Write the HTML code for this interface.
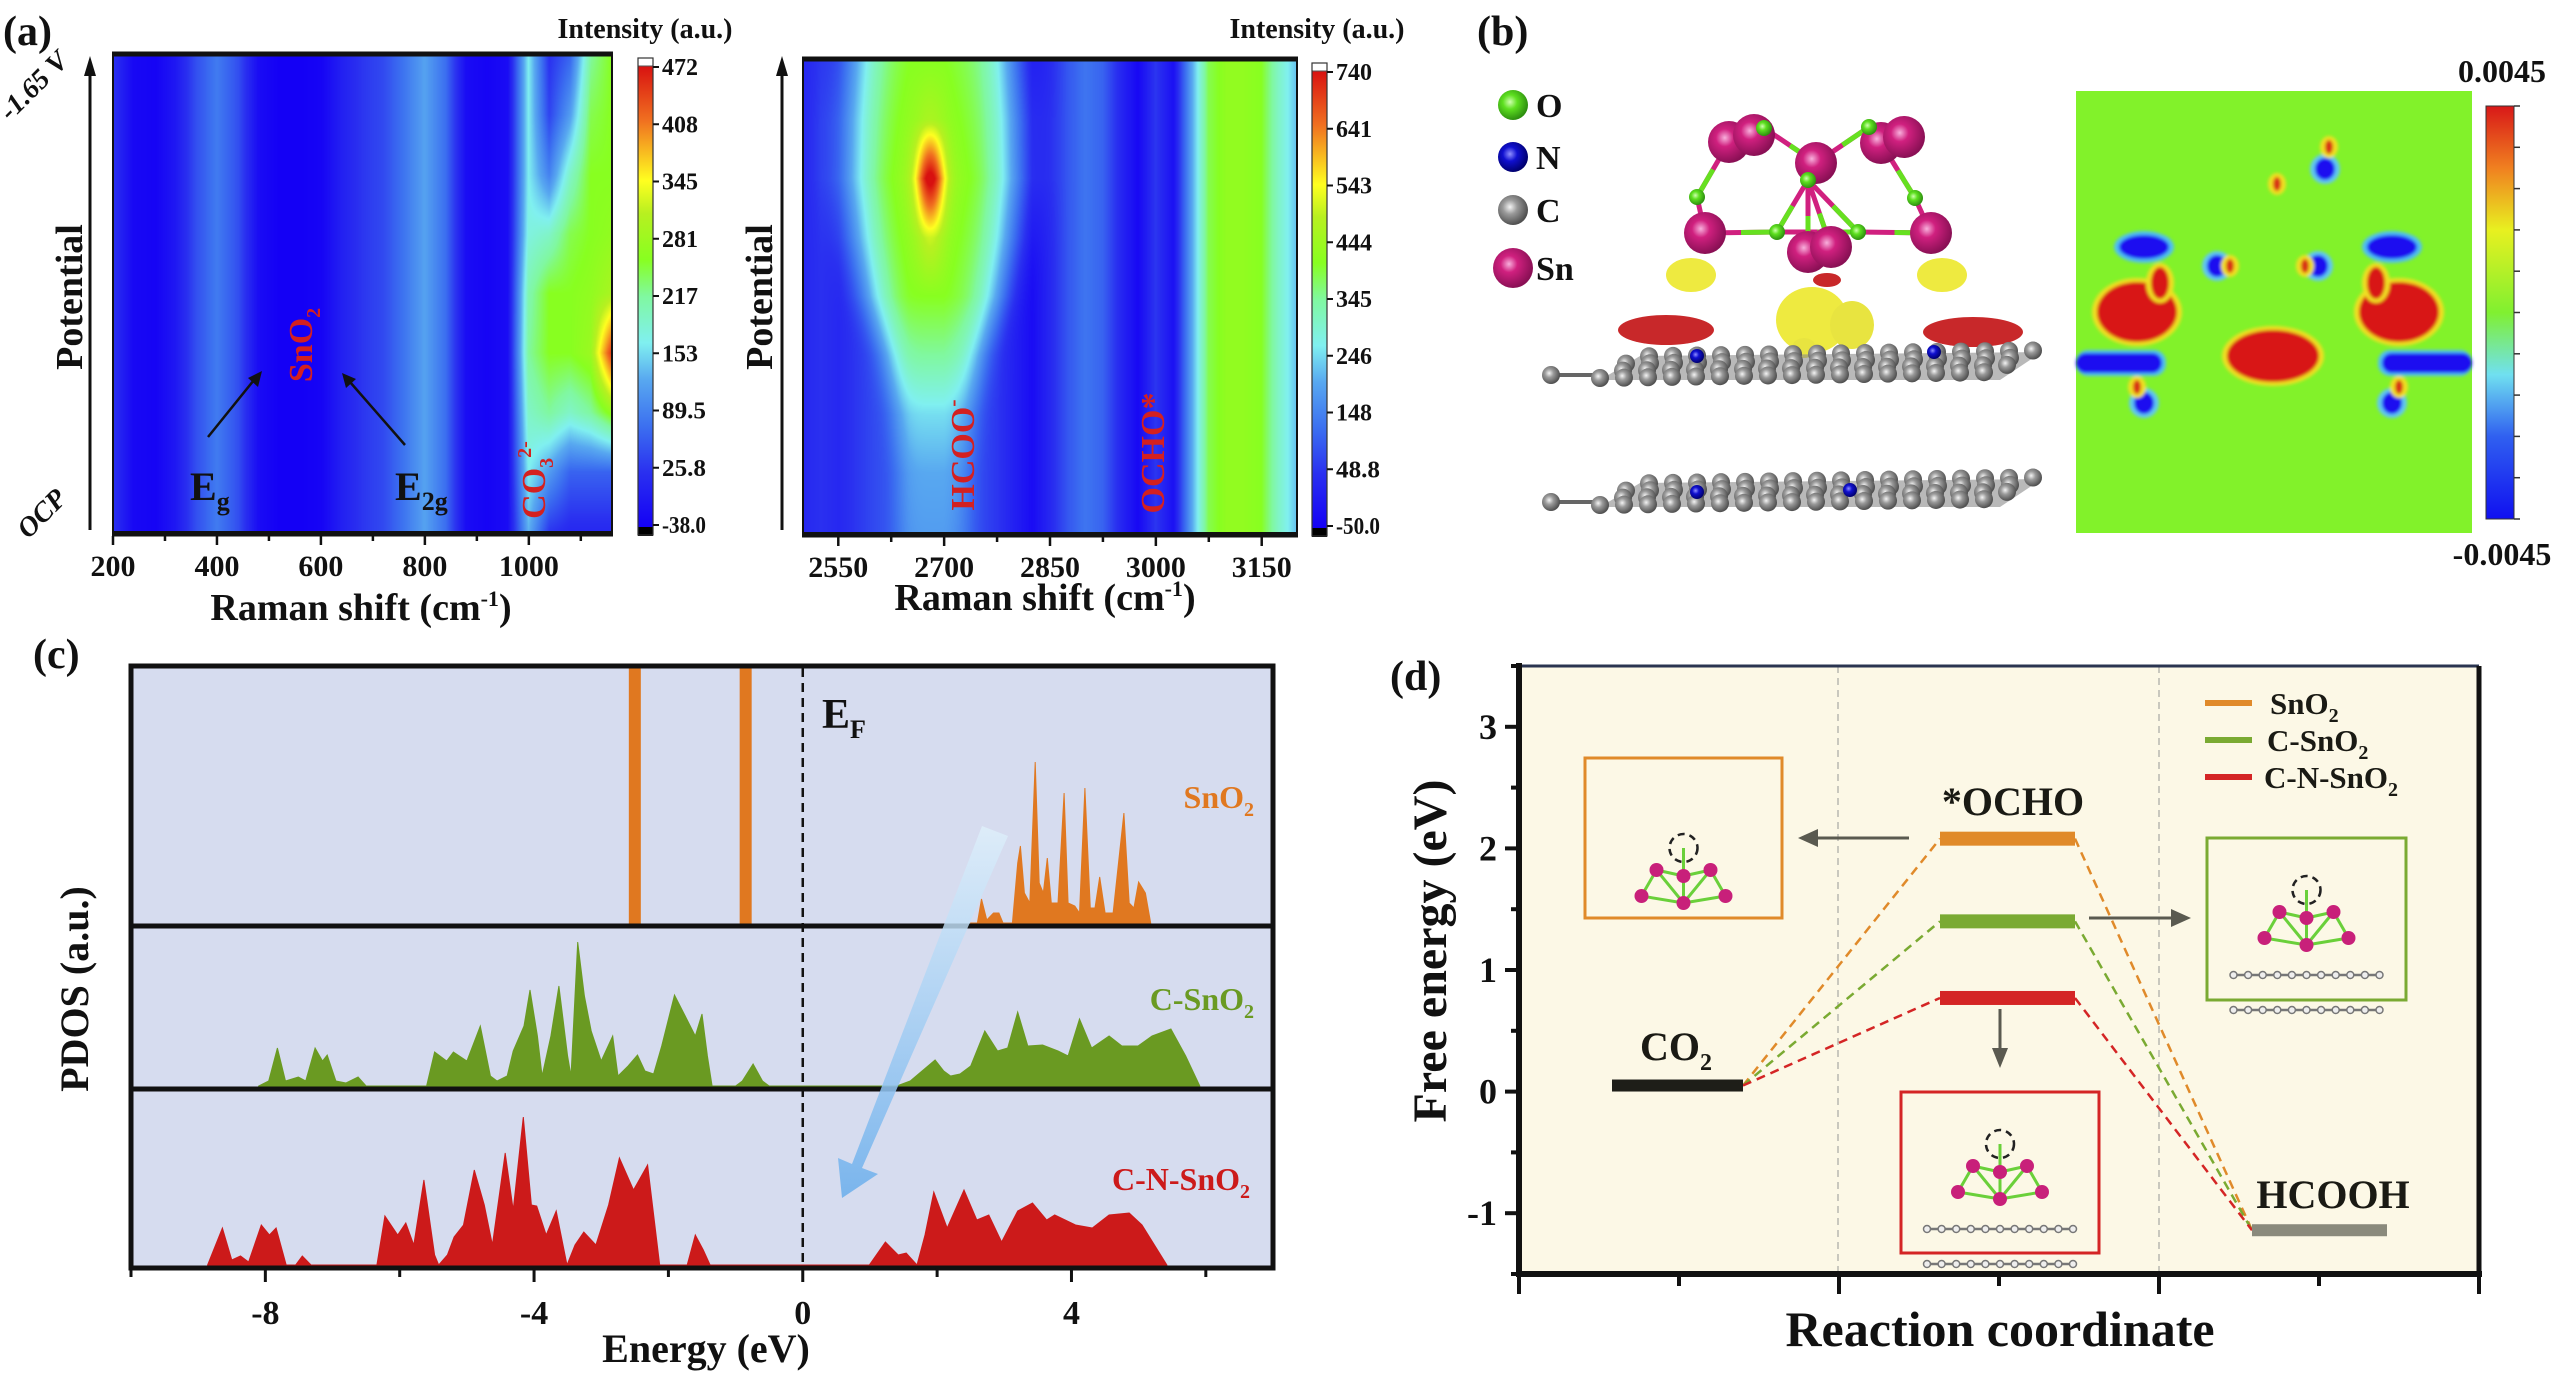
<!DOCTYPE html>
<html><head><meta charset="utf-8">
<style>
html,body{margin:0;padding:0;background:#fff;}
#wrap{position:relative;width:2559px;height:1373px;overflow:hidden;background:#fff;}
svg,canvas{position:absolute;left:0;top:0;}
text{font-family:"Liberation Serif",serif;font-weight:bold;}
</style></head>
<body>
<div id="wrap">
<svg id="base" width="2559" height="1373">
<defs>
  <linearGradient id="jetA" x1="0" y1="1" x2="0" y2="0">
    <stop offset="0" stop-color="#1400f5"/><stop offset="0.12" stop-color="#2a30f0"/><stop offset="0.22" stop-color="#3c70f0"/>
    <stop offset="0.32" stop-color="#58a8f0"/><stop offset="0.40" stop-color="#80f0f0"/><stop offset="0.50" stop-color="#80f8a0"/>
    <stop offset="0.58" stop-color="#88ff20"/><stop offset="0.68" stop-color="#b8f020"/><stop offset="0.75" stop-color="#ffff20"/>
    <stop offset="0.88" stop-color="#f07020"/><stop offset="1" stop-color="#d81010"/>
  </linearGradient>
  <linearGradient id="jetB" x1="0" y1="1" x2="0" y2="0">
    <stop offset="0" stop-color="#1010f0"/><stop offset="0.2" stop-color="#3060f0"/><stop offset="0.35" stop-color="#70e0f0"/>
    <stop offset="0.5" stop-color="#80f030"/><stop offset="0.7" stop-color="#e8f020"/><stop offset="0.85" stop-color="#f08020"/><stop offset="1" stop-color="#d81818"/>
  </linearGradient>
  <linearGradient id="arrowGrad" x1="0" y1="0" x2="0" y2="1">
    <stop offset="0" stop-color="#dff0fb" stop-opacity="0.8"/><stop offset="1" stop-color="#6fb0ec" stop-opacity="0.9"/>
  </linearGradient>
  <radialGradient id="snG" cx="0.4" cy="0.4" r="0.6"><stop offset="0" stop-color="#f8b0dc"/><stop offset="0.35" stop-color="#d0207f"/><stop offset="1" stop-color="#8a1055"/></radialGradient>
  <radialGradient id="oG" cx="0.4" cy="0.4" r="0.6"><stop offset="0" stop-color="#d0ffb0"/><stop offset="0.4" stop-color="#5ee020"/><stop offset="1" stop-color="#2e9010"/></radialGradient>
  <radialGradient id="nG" cx="0.4" cy="0.4" r="0.6"><stop offset="0" stop-color="#9090ff"/><stop offset="0.4" stop-color="#1010d0"/><stop offset="1" stop-color="#000070"/></radialGradient>
  <radialGradient id="cG" cx="0.4" cy="0.4" r="0.6"><stop offset="0" stop-color="#f4f4f4"/><stop offset="0.4" stop-color="#9a9a9a"/><stop offset="1" stop-color="#505050"/></radialGradient>
  <filter id="blur3"><feGaussianBlur stdDeviation="3"/></filter>
  <filter id="blur2"><feGaussianBlur stdDeviation="1.5"/></filter>
</defs>
<g id="panelA"></g>
<g id="panelB"></g>
<g id="panelC"></g>
<g id="panelD"></g>
</svg>
<canvas id="heatL" width="499" height="477" style="left:113px;top:55px"></canvas>
<canvas id="heatR" width="494" height="473" style="left:803px;top:60px"></canvas>
<svg id="over" width="2559" height="1373"></svg>
</div>
<script>
// ================= DATA =================
const leftWn = [200,240,280,320,360,400,440,480,520,560,600,640,680,720,760,800,840,880,920,960];
const leftBase = [0.12,0.02,0.01,0.06,0.17,0.24,0.17,0.03,0.0,0.0,0.01,0.08,0.13,0.16,0.23,0.31,0.22,0.03,0.01,0.03];
const leftHighWn = [1000,1040,1080,1120,1160];
const leftHigh = [
 [0.33,0.13,0.1,0.1,0.1],
 [0.40,0.30,0.20,0.20,0.20],
 [0.45,0.50,0.45,0.50,0.60],
 [0.50,0.58,0.58,0.62,0.95],
 [0.48,0.58,0.58,0.60,0.65],
 [0.42,0.45,0.55,0.58,0.60],
 [0.40,0.25,0.45,0.58,0.58],
 [0.40,0.15,0.30,0.55,0.58],
 [0.40,0.12,0.20,0.50,0.58]];
const leftTicks = [200,400,600,800,1000];
const leftCbTicks = ["472","408","345","281","217","153","89.5","25.8","-38.0"];
const rightWn = [2500,2525,2550,2575,2600,2625,2650,2675,2700,2725,2750,2775,2800,2825,2850,2875,2900,2925,2950,2975,3000,3025,3050,3075,3100,3125,3150,3175,3200];
const rightBase = [0.1,0.12,0.1,0.13,0.16,0.18,0.2,0.2,0.2,0.18,0.16,0.13,0.08,0.03,0.1,0.18,0.23,0.2,0.1,0.02,0.13,0.04,0.3,0.55,0.6,0.6,0.58,0.45,0.35];
const hcooCenter = 2685;
const hcooAmp = [0.1,0.12,0.18,0.3,0.38,0.4,0.42,0.4,0.38];
const hcooSig = [45,45,50,60,80,95,105,105,100];
const hotAmp = [0,0,0,0,0,0.1,0.42,0.05,0];
const hotSig = 14;
const rightTicks = [2550,2700,2850,3000,3150];
const rightCbTicks = ["740","641","543","444","345","246","148","48.8","-50.0"];
const energyTicks = [-8,-4,0,4];
const sno2Bars = [-2.5,-0.85];
const sno2E = [2.5,2.6,2.66,2.74,2.84,2.92,2.98,3.12,3.2,3.24,3.3,3.38,3.46,3.52,3.58,3.64,3.7,3.8,3.89,3.95,4.05,4.12,4.2,4.28,4.35,4.42,4.5,4.62,4.78,4.86,4.93,5.0,5.1,5.18];
const sno2V = [0,0,24,3,10,10,0,0,60,77,30,20,161,40,30,65,20,20,130,20,17,10,135,15,15,46,10,10,110,20,15,41,30,0];
const csno2E = [-8.1,-7.95,-7.82,-7.7,-7.51,-7.4,-7.26,-7.15,-7.08,-6.95,-6.8,-6.62,-6.5,-5.6,-5.48,-5.3,-5.2,-5.0,-4.8,-4.65,-4.55,-4.4,-4.31,-4.15,-4.06,-3.95,-3.88,-3.75,-3.63,-3.5,-3.45,-3.35,-3.25,-3.15,-3.0,-2.83,-2.75,-2.6,-2.46,-2.35,-2.22,-2.1,-1.91,-1.75,-1.6,-1.5,-1.42,-1.35,-1.0,-0.9,-0.74,-0.6,-0.5,1.4,1.6,1.97,2.1,2.2,2.34,2.5,2.71,2.9,3.05,3.2,3.35,3.57,3.8,3.95,4.12,4.3,4.56,4.75,4.99,5.2,5.48,5.7,5.91];
const csno2V = [0,5,38,5,9,5,38,25,31,5,3,9,0,0,34,25,34,25,60,10,5,10,35,60,96,50,10,50,100,30,10,144,90,55,25,50,10,20,31,15,12,40,91,70,50,72,30,0,0,5,22,5,0,0,5,26,15,10,12,20,55,35,38,74,40,41,35,30,67,38,50,40,40,50,57,30,0];
const cnsno2E = [-8.86,-8.64,-8.5,-8.37,-8.25,-8.06,-7.94,-7.84,-7.69,-7.55,-7.45,-7.32,-6.34,-6.22,-6.03,-5.91,-5.79,-5.64,-5.48,-5.42,-5.29,-5.19,-5.05,-4.89,-4.74,-4.62,-4.43,-4.31,-4.16,-4.04,-3.96,-3.82,-3.67,-3.51,-3.39,-3.26,-3.08,-2.89,-2.73,-2.52,-2.31,-2.13,-1.72,-1.6,-1.48,-1.38,0.99,1.23,1.42,1.54,1.7,1.82,1.95,2.15,2.4,2.59,2.77,2.96,3.2,3.42,3.63,3.75,4.06,4.31,4.56,4.86,5.05,5.42];
const cnsno2V = [0,37,5,9,3,40,30,37,0,0,9,0,0,49,30,42,20,85,10,0,10,28,40,95,60,20,112,55,148,60,59,30,54,0,20,33,20,60,107,75,100,0,0,30,15,0,0,23,10,12,0,30,73,37,75,45,50,23,54,62,45,50,40,37,50,52,40,0];
const feTicks = [3,2,1,0,-1];
const feSeries = ["SnO2","C-SnO2","C-N-SnO2"];
const feCO2 = 0.05;
const feOCHO = [2.08,1.40,0.77];
const feHCOOH = -1.14;

// ================= HELPERS =================
const NS="http://www.w3.org/2000/svg";
function el(parent,tag,attrs,txt){const e=document.createElementNS(NS,tag);for(const k in attrs)e.setAttribute(k,attrs[k]);if(txt!==undefined)e.textContent=txt;parent.appendChild(e);return e;}
function interp(xs,ys,x){if(x<=xs[0])return ys[0];for(let i=1;i<xs.length;i++){if(x<=xs[i]){const t=(x-xs[i-1])/(xs[i]-xs[i-1]);return ys[i-1]+t*(ys[i]-ys[i-1]);}}return ys[ys.length-1];}
function rowInterp(arr,r){const f=r*(arr.length-1);const i=Math.min(Math.floor(f),arr.length-2);const t=f-i;return arr[i]*(1-t)+arr[i+1]*t;}
const cmapStops=[[0,[20,0,245]],[0.12,[42,48,240]],[0.22,[60,112,240]],[0.32,[88,168,240]],[0.40,[128,240,240]],[0.50,[128,248,160]],[0.58,[136,255,32]],[0.68,[184,240,32]],[0.75,[255,255,32]],[0.88,[240,112,32]],[1,[216,16,16]]];
function cmap(v){v=Math.max(0,Math.min(1,v));for(let i=1;i<cmapStops.length;i++){if(v<=cmapStops[i][0]){const a=cmapStops[i-1],b=cmapStops[i];const t=(v-a[0])/(b[0]-a[0]);return [0,1,2].map(k=>Math.round(a[1][k]+t*(b[1][k]-a[1][k])));}}return cmapStops[cmapStops.length-1][1];}
function subText(parent,x,y,parts,attrs,name){
  const t=el(parent,'text',Object.assign({x:x,y:y},attrs));
  
  
  parts.forEach(p=>{el(t,'tspan',p.sub?{dy:p.dy||8,'font-size':p.fs}:(p.sup?{dy:p.dy||-12,'font-size':p.fs}:(p.back?{dy:p.back}:{})),p.t);});
  return t;
}

// ================= PANEL A =================
const A=document.getElementById('panelA');
const OV=document.getElementById('over');
function heatmap(canvasId,wmin,wmax,valFn){
  const cv=document.getElementById(canvasId),ctx=cv.getContext('2d');
  const W=cv.width,H=cv.height,img=ctx.createImageData(W,H);
  for(let py=0;py<H;py++){const r=1-py/(H-1);
    for(let px=0;px<W;px++){const wn=wmin+(wmax-wmin)*px/(W-1);const c=cmap(valFn(wn,r));const o=(py*W+px)*4;img.data[o]=c[0];img.data[o+1]=c[1];img.data[o+2]=c[2];img.data[o+3]=255;}}
  ctx.putImageData(img,0,0);
}
heatmap('heatL',200,1160,(wn,r)=>{
  if(wn<=960)return interp(leftWn,leftBase,wn);
  const col=leftHighWn.map((w,i)=>rowInterp(leftHigh.map(row=>row[i]),r));
  if(wn<1000){const t=(wn-960)/40;return leftBase[leftBase.length-1]*(1-t)+col[0]*t;}
  return interp(leftHighWn,col,wn);
});
heatmap('heatR',2500,3200,(wn,r)=>{
  const b=interp(rightWn,rightBase,wn);const a=rowInterp(hcooAmp,r),s=rowInterp(hcooSig,r);
  const h=rowInterp(hotAmp,r);const d=(wn-hcooCenter)/s;
  return b+a*Math.exp(-0.5*d*d*d*d)+h*Math.exp(-((wn-2680)**2)/(2*hotSig*hotSig));
});
function heatAxes(g,x0,x1,y0,y1,wmin,wmax,ticks,cbx,cbLabels,prefix){
  const xs=w=>x0+(w-wmin)/(wmax-wmin)*(x1-x0);
  const f=el(OV,'rect',{x:x0,y:y0,width:x1-x0,height:y1-y0,fill:'none',stroke:'#111','stroke-width':2});
  
  el(OV,'line',{x1:x0-1,x2:x1+1,y1:y0-1,y2:y0-1,stroke:'#111','stroke-width':5});
  el(OV,'line',{x1:x0-1,x2:x1+1,y1:y1+2,y2:y1+2,stroke:'#111','stroke-width':5});
  const step=(ticks[1]-ticks[0])/2;
  for(let w=ticks[0]-step*Math.floor((ticks[0]-wmin)/step);w<=wmax;w+=step){
    const tk=el(g,'line',{x1:xs(w),x2:xs(w),y1:y1+4,y2:y1+(ticks.includes(w)?13:9),stroke:'#111','stroke-width':2.5});
    
  }
  ticks.forEach(w=>{const t=el(g,'text',{x:xs(w),y:y1+44,'font-size':30,'text-anchor':'middle',fill:'#111'},String(w));
    });
  const cb=el(g,'rect',{x:cbx,y:y0+10,width:15,height:y1-y0-14,fill:'url(#jetA)'});
  
  el(g,'rect',{x:cbx,y:y0+3,width:15,height:8,fill:'#fff',stroke:'#555','stroke-width':1});
  el(g,'rect',{x:cbx,y:y1-5,width:15,height:9,fill:'#000'});
  el(g,'rect',{x:cbx,y:y0+3,width:15,height:y1-y0,fill:'none',stroke:'#333','stroke-width':1.2});
  cbLabels.forEach((lab,i)=>{const yy=y0+12+i*(y1-y0-19)/(cbLabels.length-1);
    el(g,'line',{x1:cbx+15,x2:cbx+21,y1:yy,y2:yy,stroke:'#111','stroke-width':2});
    const t=el(g,'text',{x:cbx+24,y:yy+8,'font-size':24,fill:'#111','textLength':lab.length>3?44:36,lengthAdjust:'spacingAndGlyphs'},lab);
    });
}
heatAxes(A,113,612,55,532,200,1160,leftTicks,638,leftCbTicks,'left-raman');
heatAxes(A,803,1297,60,533,2500,3200,rightTicks,1312,rightCbTicks,'right-raman');
(function(){
  let t;
  t=el(A,'text',{x:3,y:45,'font-size':42,fill:'#111'},'(a)');
  t=el(A,'text',{x:645,y:38,'font-size':28,'text-anchor':'middle',fill:'#111'},'Intensity (a.u.)');
  t=el(A,'text',{x:1317,y:38,'font-size':28,'text-anchor':'middle',fill:'#111'},'Intensity (a.u.)');
  subText(A,361,620,[{t:'Raman shift (cm'},{t:'-1',sup:1,fs:22,dy:-14},{t:')',back:14}],{'font-size':38,'text-anchor':'middle',fill:'#111'},'left-x-axis-title');
  subText(A,1045,610,[{t:'Raman shift (cm'},{t:'-1',sup:1,fs:22,dy:-14},{t:')',back:14}],{'font-size':38,'text-anchor':'middle',fill:'#111'},'right-x-axis-title');
  t=el(A,'text',{x:0,y:0,'font-size':38,'text-anchor':'middle',fill:'#111',transform:'translate(82,297) rotate(-90)'},'Potential');
  t=el(A,'text',{x:0,y:0,'font-size':38,'text-anchor':'middle',fill:'#111',transform:'translate(772,297) rotate(-90)'},'Potential');
  t=el(A,'text',{x:0,y:0,'font-size':28,'text-anchor':'middle',fill:'#111','font-style':'italic',transform:'translate(40,92) rotate(-45)'},'-1.65 V');
  t=el(A,'text',{x:0,y:0,'font-size':28,'text-anchor':'middle',fill:'#111','font-style':'italic',transform:'translate(48,520) rotate(-45)'},'OCP');
  [[90],[782]].forEach(p=>{const l=el(A,'line',{x1:p[0],x2:p[0],y1:530,y2:72,stroke:'#111','stroke-width':3});
    el(A,'polygon',{points:`${p[0]-6},76 ${p[0]+6},76 ${p[0]},56`,fill:'#111'});});
  subText(OV,190,500,[{t:'E'},{t:'g',sub:1,fs:26,dy:10}],{'font-size':40,fill:'#111'},'eg-label');
  subText(OV,395,500,[{t:'E'},{t:'2g',sub:1,fs:26,dy:10}],{'font-size':40,fill:'#111'},'e2g-label');
  el(OV,'line',{x1:208,y1:437,x2:254,y2:380,stroke:'#111','stroke-width':2.5});
  el(OV,'polygon',{points:'262,371 248,378 258,387',fill:'#111'});
  el(OV,'line',{x1:405,y1:445,x2:350,y2:382,stroke:'#111','stroke-width':2.5});
  el(OV,'polygon',{points:'342,373 346,388 356,379',fill:'#111'});
  subText(OV,0,0,[{t:'SnO'},{t:'2',sub:1,fs:20,dy:8}],{'font-size':34,fill:'#d42020','text-anchor':'middle',transform:'translate(312,345) rotate(-90)'},'sno2-band-label');
  subText(OV,0,0,[{t:'CO'},{t:'3',sub:1,fs:20,dy:8},{t:'2-',sup:1,fs:20,dy:-22}],{'font-size':34,fill:'#d42020','text-anchor':'middle',transform:'translate(545,480) rotate(-90)'},'carbonate-band-label');
  subText(OV,0,0,[{t:'HCOO'},{t:'-',sup:1,fs:22,dy:-14}],{'font-size':34,fill:'#d42020','text-anchor':'middle',transform:'translate(974,455) rotate(-90)'},'formate-band-label');
  subText(OV,0,0,[{t:'OCHO*'}],{'font-size':34,fill:'#d42020','text-anchor':'middle',transform:'translate(1164,453) rotate(-90)'},'ocho-band-label');
})();

// ================= PANEL B =================
const B=document.getElementById('panelB');
(function(){
  let t=el(B,'text',{x:1477,y:45,'font-size':42,fill:'#111'},'(b)');
  const leg=[['O','url(#oG)',105,15],['N','url(#nG)',157,15],['C','url(#cG)',210,15],['Sn','url(#snG)',268,20]];
  leg.forEach(l=>{const c=el(B,'circle',{cx:1513,cy:l[2],r:l[3],fill:l[1]});
    const tx=el(B,'text',{x:1536,y:l[2]+12,'font-size':34,fill:'#111'},l[0]);});
  function sheet(baseY,name,nAtoms){
    const g=el(B,'g',{});
    el(g,'polygon',{points:`1600,${baseY+2} 2000,${baseY+2} 2042,${baseY-26} 1640,${baseY-22}`,fill:'#8a8a8a',opacity:0.6});
    el(g,'line',{x1:1551,y1:baseY-3,x2:1600,y2:baseY-3,stroke:'#666','stroke-width':4});
    el(g,'circle',{cx:1551,cy:baseY-3,r:9,fill:'url(#cG)'});
    for(let r=3;r>=0;r--){const xs=1600+r*13+(r%2)*10,xe=1995+r*13;
      for(let x=xs;x<=xe;x+=24){const y=baseY-r*7-(x-1600)*0.015;el(g,'circle',{cx:x,cy:y,r:9,fill:'url(#cG)'});}}
    nAtoms.forEach(p=>el(g,'circle',{cx:p[0],cy:p[1],r:7,fill:'url(#nG)'}));
  }
  const iso=el(B,'g',{});
  el(iso,'ellipse',{cx:1666,cy:330,rx:48,ry:15,fill:'#c8282a'});
  el(iso,'ellipse',{cx:1973,cy:332,rx:50,ry:15,fill:'#c8282a'});
  el(iso,'ellipse',{cx:1812,cy:320,rx:36,ry:33,fill:'#eeea40'});
  el(iso,'ellipse',{cx:1852,cy:325,rx:22,ry:24,fill:'#e8e440'});
  el(iso,'ellipse',{cx:1804,cy:348,rx:12,ry:10,fill:'#e8e440'});
  sheet(378,'graphene-sheet-upper',[[1697,356],[1934,352]]);
  sheet(505,'graphene-sheet-lower',[[1697,492],[1850,490]]);
  el(iso,'ellipse',{cx:1691,cy:275,rx:25,ry:17,fill:'#eeea40'});
  el(iso,'ellipse',{cx:1942,cy:275,rx:25,ry:17,fill:'#eeea40'});
  el(iso,'ellipse',{cx:1827,cy:280,rx:14,ry:7,fill:'#c8282a'});
  const cl=el(B,'g',{});
  const sn=[[1729,142],[1754,135],[1881,143],[1904,137],[1816,163],[1705,233],[1931,233],[1808,252],[1831,247]];
  const ox=[[1764,128],[1869,127],[1808,180],[1697,197],[1915,198],[1777,232],[1858,232]];
  [[1729,142,1764,128],[1764,128,1816,163],[1816,163,1869,127],[1869,127,1881,143],[1729,142,1697,197],[1697,197,1705,233],[1881,143,1915,198],[1915,198,1931,233],[1705,233,1777,232],[1777,232,1858,232],[1858,232,1931,233],[1808,180,1808,252],[1808,180,1777,232],[1808,180,1858,232],[1808,180,1831,247],[1816,163,1808,180]].forEach(b=>{
    el(cl,'line',{x1:b[0],y1:b[1],x2:b[2],y2:b[3],stroke:'#d0207f','stroke-width':5});
    el(cl,'line',{x1:(b[0]+b[2])/2,y1:(b[1]+b[3])/2,x2:b[2],y2:b[3],stroke:'#66e020','stroke-width':5});});
  sn.forEach(p=>el(cl,'circle',{cx:p[0],cy:p[1],r:21,fill:'url(#snG)'}));
  ox.forEach(p=>el(cl,'circle',{cx:p[0],cy:p[1],r:8,fill:'url(#oG)'}));
  const cm=el(B,'g',{});
  el(cm,'rect',{x:2076,y:91,width:396,height:442,fill:'#82f22a'});
  const fg=el(cm,'g',{filter:'url(#blur2)'});
  function blob(cx,cy,rx,ry,col,halo){if(halo)el(fg,'ellipse',{cx:cx,cy:cy,rx:rx+5,ry:ry+4,fill:halo});el(fg,'ellipse',{cx:cx,cy:cy,rx:rx,ry:ry,fill:col});}
  blob(2144,247,25,12,'#1a10f0','#50c0f0');blob(2392,247,25,12,'#1a10f0','#50c0f0');
  blob(2137,312,40,30,'#d81818','#f0e020');blob(2399,312,40,30,'#d81818','#f0e020');
  blob(2160,283,9,16,'#d81818','#f0e020');blob(2376,283,9,16,'#d81818','#f0e020');
  blob(2273,356,46,26,'#d81818','#f0e020');
  el(fg,'rect',{x:2076,y:350,width:90,height:26,rx:12,fill:'#50c0f0'});el(fg,'rect',{x:2076,y:353,width:86,height:20,rx:10,fill:'#1a10f0'});
  el(fg,'rect',{x:2378,y:350,width:94,height:26,rx:12,fill:'#50c0f0'});el(fg,'rect',{x:2382,y:353,width:90,height:20,rx:10,fill:'#1a10f0'});
  [[2217,266],[2318,266],[2144,403],[2392,403],[2325,169]].forEach(p=>blob(p[0],p[1],10,11,'#1a10f0','#60c8f0'));
  [[2230,266],[2305,266],[2137,387],[2399,387],[2329,147],[2277,184]].forEach(p=>blob(p[0],p[1],4,7,'#d83018','#f0e020'));
  const cbb=el(B,'rect',{x:2486,y:106,width:28,height:413,fill:'url(#jetB)',stroke:'#333','stroke-width':1});
  for(let i=0;i<=10;i++){const y=106+i*41.3;el(B,'line',{x1:2514,x2:2520,y1:y,y2:y,stroke:'#333','stroke-width':1.5});}
  t=el(B,'text',{x:2502,y:82,'font-size':32,'text-anchor':'middle',fill:'#111'},'0.0045');
  t=el(B,'text',{x:2502,y:565,'font-size':32,'text-anchor':'middle',fill:'#111'},'-0.0045');
})();

// ================= PANEL C =================
const C=document.getElementById('panelC');
(function(){
  const X0=131,X1=1273,E0=-10,E1=7;
  const ex=e=>X0+(e-E0)/(E1-E0)*(X1-X0);
  const bg=el(C,'rect',{x:X0,y:666,width:X1-X0,height:1268-666,fill:'#d6dcef'});
  function spectrum(E,V,base,color,name){
    const yv=v=>base-3-v;
    let pts=`${ex(E[0])},${base} `+E.map((e,i)=>`${ex(e).toFixed(1)},${yv(V[i]).toFixed(1)}`).join(' ')+` ${ex(E[E.length-1])},${base}`;
    const p=el(C,'polygon',{points:pts,fill:color,stroke:color,'stroke-width':1});
  }
  sno2Bars.forEach(e=>{const r=el(C,'rect',{x:ex(e)-6,y:668,width:12,height:258,fill:'#e07820'});});
  spectrum(sno2E,sno2V,926,'#e07820','sno2-pdos-area');
  spectrum(csno2E,csno2V,1089,'#6a9a22','c-sno2-pdos-area');
  spectrum(cnsno2E,cnsno2V,1268,'#cc1a1a','c-n-sno2-pdos-area');
  const dl=el(C,'line',{x1:ex(0),x2:ex(0),y1:668,y2:1268,stroke:'#111','stroke-width':2.5,'stroke-dasharray':'9,6'});
  const fr=el(C,'rect',{x:X0,y:666,width:X1-X0,height:602,fill:'none',stroke:'#111','stroke-width':5});
  [926,1089].forEach(y=>{const l=el(C,'line',{x1:X0,x2:X1,y1:y,y2:y,stroke:'#111','stroke-width':5});});
  for(let e=-10;e<=6;e+=2){const l=el(C,'line',{x1:ex(e),x2:ex(e),y1:1268,y2:1268+(energyTicks.includes(e)?14:9),stroke:'#111','stroke-width':3});}
  energyTicks.forEach(e=>{const t=el(C,'text',{x:ex(e),y:1324,'font-size':34,'text-anchor':'middle',fill:'#111'},String(e));});
  let t=el(C,'text',{x:706,y:1362,'font-size':40,'text-anchor':'middle',fill:'#111'},'Energy (eV)');
  t=el(C,'text',{x:0,y:0,'font-size':40,'text-anchor':'middle',fill:'#111',transform:'translate(88,989) rotate(-90)'},'PDOS (a.u.)');
  t=el(C,'text',{x:33,y:668,'font-size':42,fill:'#111'},'(c)');
  subText(C,822,728,[{t:'E'},{t:'F',sub:1,fs:26,dy:10}],{'font-size':42,fill:'#111'},'fermi-level-label');
  subText(C,1254,808,[{t:'SnO'},{t:'2',sub:1,fs:20,dy:8}],{'font-size':32,fill:'#e07820','text-anchor':'end'},'sno2-series-label');
  subText(C,1254,1010,[{t:'C-SnO'},{t:'2',sub:1,fs:20,dy:8}],{'font-size':32,fill:'#6a9a22','text-anchor':'end'},'c-sno2-series-label');
  subText(C,1250,1190,[{t:'C-N-SnO'},{t:'2',sub:1,fs:20,dy:8}],{'font-size':32,fill:'#cc1a1a','text-anchor':'end'},'c-n-sno2-series-label');
  const ar=el(C,'polygon',{points:'982,826 1008,836 862,1168 878,1174 842,1198 838,1158 852,1164 ',fill:'url(#arrowGrad)'});
})();

// ================= PANEL D =================
const D=document.getElementById('panelD');
(function(){
  const X0=1519,X1=2479,Y0=666,Y1=1274,V0=-1.5,V1=3.5;
  const yv=v=>Y1-(v-V0)/(V1-V0)*(Y1-Y0);
  const colors=['#e08a2a','#7aaa32','#d42525'];
  const bg=el(D,'rect',{x:X0,y:Y0,width:X1-X0,height:Y1-Y0,fill:'#fcf8e6'});
  [1838,2159].forEach(x=>el(D,'line',{x1:x,x2:x,y1:Y0,y2:Y1,stroke:'#b8b8b0','stroke-width':1.5,'stroke-dasharray':'7,5'}));
  el(D,'line',{x1:X0,x2:X1,y1:Y0,y2:Y0,stroke:'#2a3450','stroke-width':3});
  el(D,'line',{x1:X1,x2:X1,y1:Y0,y2:Y1,stroke:'#111','stroke-width':5});
  const ax=el(D,'line',{x1:X0,x2:X0,y1:Y0-3,y2:Y1+3,stroke:'#111','stroke-width':6});
  const bx=el(D,'line',{x1:X0-3,x2:X1+3,y1:Y1,y2:Y1,stroke:'#111','stroke-width':6});
  for(let v=-1.5;v<=3.5;v+=0.5){const major=Number.isInteger(v);const l=el(D,'line',{x1:X0-(major?14:8),x2:X0,y1:yv(v),y2:yv(v),stroke:'#111','stroke-width':4});}
  feTicks.forEach(v=>{const t=el(D,'text',{x:X0-22,y:yv(v)+12,'font-size':36,'text-anchor':'end',fill:'#111'},String(v));});
  for(let i=0;i<=6;i++){const x=X0+i*(X1-X0)/6;const l=el(D,'line',{x1:x,x2:x,y1:Y1,y2:Y1+(i%2==0?20:12),stroke:'#111','stroke-width':4});}
  const co2L=1612,co2R=1743,ocL=1940,ocR=2075,hcL=2252,hcR=2387;
  feOCHO.forEach((v,i)=>{
    const a=el(D,'line',{x1:co2R,y1:yv(feCO2),x2:ocL,y2:yv(v),stroke:colors[i],'stroke-width':2.5,'stroke-dasharray':'9,6'});
    const b=el(D,'line',{x1:ocR,y1:yv(v),x2:hcL,y2:yv(feHCOOH),stroke:colors[i],'stroke-width':2.5,'stroke-dasharray':'9,6'});
  });
  let r=el(D,'rect',{x:co2L,y:yv(feCO2)-6,width:co2R-co2L,height:12,fill:'#1e1e18'});
  r=el(D,'rect',{x:hcL,y:yv(feHCOOH)-6,width:hcR-hcL,height:12,fill:'#8a8a7c'});
  feOCHO.forEach((v,i)=>{const b=el(D,'rect',{x:ocL,y:yv(v)-7,width:ocR-ocL,height:14,fill:colors[i]});});
  let t=el(D,'text',{x:2013,y:815,'font-size':40,'text-anchor':'middle',fill:'#1a1a14'},'*OCHO');
  subText(D,1640,1060,[{t:'CO'},{t:'2',sub:1,fs:24,dy:10}],{'font-size':40,fill:'#1a1a14'},'co2-label');
  t=el(D,'text',{x:2333,y:1208,'font-size':40,'text-anchor':'middle',fill:'#1a1a14'},'HCOOH');
  t=el(D,'text',{x:2000,y:1346,'font-size':50,'text-anchor':'middle',fill:'#111'},'Reaction coordinate');
  t=el(D,'text',{x:0,y:0,'font-size':48,'text-anchor':'middle',fill:'#111',transform:'translate(1446,951) rotate(-90)'},'Free energy (eV)');
  t=el(D,'text',{x:1390,y:690,'font-size':42,fill:'#111'},'(d)');
  feSeries.forEach((s,i)=>{const y=703+i*37;
    const l=el(D,'line',{x1:2205,x2:2252,y1:y,y2:y,stroke:colors[i],'stroke-width':6});
    subText(D,2270-(i*3),y+11,[{t:s.slice(0,-1)},{t:'2',sub:1,fs:20,dy:8}],{'font-size':31,fill:'#1a1a14'},'legend-label-'+s.toLowerCase());});
  function inset(x,y,w,h,col,name,sheets){
    const g=el(D,'g',{});
    el(g,'rect',{x:x,y:y,width:w,height:h,fill:'#fcf8e6',stroke:col,'stroke-width':3});
    const cx=x+w/2,cy=y+(sheets?52:90);
    const pts=[[cx-27,cy+22],[cx+27,cy+22],[cx-42,cy+48],[cx,cy+55],[cx+42,cy+48],[cx,cy+28]];
    [[0,5],[1,5],[2,3],[3,4],[0,2],[1,4],[5,3],[0,3],[1,3]].forEach(b=>el(g,'line',{x1:pts[b[0]][0],y1:pts[b[0]][1],x2:pts[b[1]][0],y2:pts[b[1]][1],stroke:'#6ad03a','stroke-width':3}));
    el(g,'line',{x1:cx,y1:cy,x2:cx,y2:cy+28,stroke:'#6ad03a','stroke-width':3});
    pts.forEach(p=>el(g,'circle',{cx:p[0],cy:p[1],r:7,fill:'#c8207a'}));
    el(g,'circle',{cx:cx,cy:cy,r:14,fill:'none',stroke:'#222','stroke-width':2.5,'stroke-dasharray':'7,5'});
    if(sheets){[cy+85,cy+120].forEach(yy=>{el(g,'line',{x1:cx-73,x2:cx+73,y1:yy,y2:yy,stroke:'#777','stroke-width':2.5});
      for(let k=0;k<=10;k++)el(g,'circle',{cx:cx-73+k*14.6,cy:yy,r:3.5,fill:'#eee',stroke:'#777','stroke-width':1.5});});}
  }
  inset(1585,758,197,160,'#e08a2a','inset-sno2-structure',false);
  inset(2207,838,199,162,'#7aaa32','inset-c-sno2-structure',true);
  inset(1901,1092,198,161,'#d42525','inset-c-n-sno2-structure',true);
  const gray='#5a5a50';
  el(D,'line',{x1:1909,y1:838,x2:1815,y2:838,stroke:gray,'stroke-width':3});
  el(D,'polygon',{points:'1798,838 1818,829 1818,847',fill:gray});
  el(D,'line',{x1:2089,y1:918,x2:2175,y2:918,stroke:gray,'stroke-width':3});
  el(D,'polygon',{points:'2191,918 2171,909 2171,927',fill:gray});
  el(D,'line',{x1:2000,y1:1009,x2:2000,y2:1052,stroke:gray,'stroke-width':3});
  el(D,'polygon',{points:'2000,1068 1992,1048 2008,1048',fill:gray});
})();
</script>
</body></html>
